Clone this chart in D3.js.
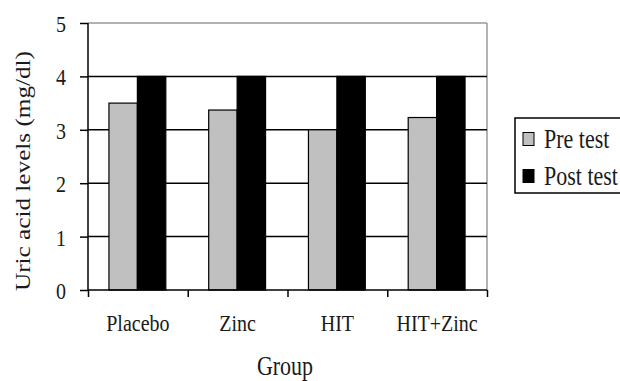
<!DOCTYPE html>
<html><head><meta charset="utf-8">
<script src="https://cdn.jsdelivr.net/npm/d3@7"></script>
<style>body{margin:0;background:#fff}svg{display:block}</style>
</head><body>
<svg id="c" width="620" height="381"></svg>
<script>
const categories = ["Placebo", "Zinc", "HIT", "HIT+Zinc"];
const series = ["Pre test", "Post test"];
const preTest = [3.5, 3.37, 3.0, 3.23];
const postTest = [4.0, 4.0, 4.0, 4.0];
const yTicks = [0, 1, 2, 3, 4, 5];
const colors = ["#c0c0c0", "#000000"];

(function () {
const values = [preTest, postTest];
const svg = d3.select("#c");
const FONT = "'Liberation Serif', 'Times New Roman', serif";
const SY = 1.2;
const txt = "#1a1a1a";

const pL = 88, pR = 487, pT = 23, pB = 290;
const y = d3.scaleLinear().domain([0, 5]).range([pB, pT]);
const x0 = d3.scaleBand().domain(categories).range([pL, pR]).padding(0);
const x1 = d3.scaleBand().domain(series).range([x0.bandwidth() * 0.21, x0.bandwidth() * 0.78]);

// plot border (gray top & right)
svg.append("line").attr("x1", pL).attr("x2", pR).attr("y1", y(5)).attr("y2", y(5))
  .attr("stroke", "#999").attr("stroke-width", 1.5);
svg.append("line").attr("x1", pR).attr("x2", pR).attr("y1", y(5)).attr("y2", pB)
  .attr("stroke", "#999").attr("stroke-width", 1.5);

// gridlines
svg.append("g").selectAll("line").data(yTicks.filter(d => d > 0 && d < 5)).join("line")
  .attr("x1", pL).attr("x2", pR).attr("y1", d => y(d)).attr("y2", d => y(d))
  .attr("stroke", "#000").attr("stroke-width", 1.5);

// bars
const g = svg.append("g");
categories.forEach((c, i) => {
  series.forEach((s, j) => {
    g.append("rect")
      .attr("x", x0(c) + x1(s))
      .attr("y", y(values[j][i]))
      .attr("width", x1.bandwidth())
      .attr("height", pB - y(values[j][i]))
      .attr("fill", colors[j])
      .attr("stroke", "#000").attr("stroke-width", 1.2);
  });
});

// y axis
const yAxis = d3.axisLeft(y).tickValues(yTicks).tickSize(8).tickFormat(d3.format("d"));
const ya = svg.append("g").attr("transform", `translate(${pL},0)`).call(yAxis);
ya.select(".domain").attr("stroke", "#000").attr("stroke-width", 1.5).attr("d", `M0,${pT}V${pB}`);
ya.selectAll(".tick line").attr("stroke", "#000").attr("stroke-width", 1.5);
ya.selectAll(".tick text").remove();
ya.selectAll(".tick").append("text")
  .attr("transform", `translate(-22,0) scale(1,${SY})`)
  .attr("dy", "0.35em").attr("text-anchor", "end")
  .attr("font-family", FONT).attr("font-size", 20).attr("fill", txt)
  .text(d => d);

// x axis (ticks at category boundaries)
const xb = d3.scaleLinear().domain([0, categories.length]).range([pL, pR]);
const xAxis = d3.axisBottom(xb).tickValues(d3.range(categories.length + 1))
  .tickSize(7).tickFormat("");
const xa = svg.append("g").attr("transform", `translate(0,${pB})`).call(xAxis);
xa.select(".domain").attr("stroke", "#000").attr("stroke-width", 1.5).attr("d", `M${pL},0H${pR}`);
xa.selectAll(".tick line").attr("stroke", "#000").attr("stroke-width", 1.5);

svg.append("g").selectAll("text").data(categories).join("text")
  .attr("transform", d => `translate(${x0(d) + x0.bandwidth() / 2},323) scale(1,${SY})`)
  .attr("dy", "0.35em").attr("text-anchor", "middle")
  .attr("font-family", FONT).attr("font-size", 20).attr("fill", txt)
  .text(d => d);

// axis titles
svg.append("text")
  .attr("transform", `translate(285,366) scale(1,${SY})`)
  .attr("dy", "0.35em").attr("text-anchor", "middle")
  .attr("font-family", FONT).attr("font-size", 22).attr("fill", txt)
  .text("Group");
svg.append("text")
  .attr("transform", `translate(23,171) rotate(-90) scale(${SY},1)`)
  .attr("dy", "0.35em").attr("text-anchor", "middle")
  .attr("font-family", FONT).attr("font-size", 21).attr("fill", txt)
  .text("Uric acid levels (mg/dl)");

// legend
const lg = svg.append("g");
lg.append("rect").attr("x", 515).attr("y", 118).attr("width", 140).attr("height", 75)
  .attr("fill", "#fff").attr("stroke", "#000").attr("stroke-width", 1.5);
const ly = [139, 176];
series.forEach((s, j) => {
  lg.append("rect").attr("x", 523).attr("y", ly[j] - 6.5).attr("width", 11).attr("height", 13)
    .attr("fill", colors[j]).attr("stroke", "#000").attr("stroke-width", 1);
  lg.append("text")
    .attr("transform", `translate(544,${ly[j]}) scale(1,${SY})`)
    .attr("dy", "0.35em")
    .attr("font-family", FONT).attr("font-size", 22).attr("fill", txt)
    .text(s);
});
})();
</script>
</body></html>
